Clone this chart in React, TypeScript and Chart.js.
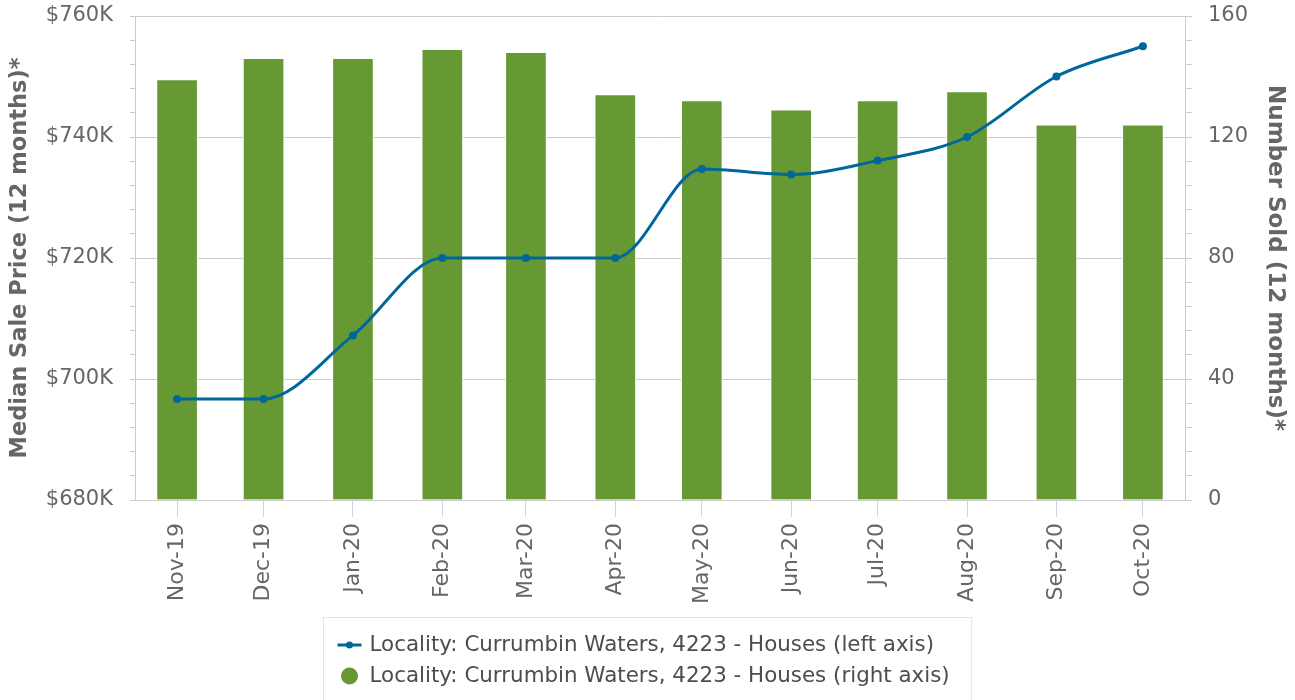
import React, { useEffect, useRef } from "react";
import { Chart, registerables } from "chart.js";

Chart.register(...registerables);

const categories = ["Nov-19", "Dec-19", "Jan-20", "Feb-20", "Mar-20", "Apr-20", "May-20", "Jun-20", "Jul-20", "Aug-20", "Sep-20", "Oct-20"];
const medianPrice = [696700, 696700, 707200, 720000, 720000, 720000, 734700, 733800, 736100, 740000, 750000, 755000];
const numberSold = [139, 146, 146, 149, 148, 134, 132, 129, 132, 135, 124, 124];
const lineLabel = "Locality: Currumbin Waters, 4223 - Houses (left axis)";
const barLabel = "Locality: Currumbin Waters, 4223 - Houses (right axis)";
const leftTitle = "Median Sale Price (12 months)*";
const rightTitle = "Number Sold (12 months)*";

const MONTHS = ["Jan", "Feb", "Mar", "Apr", "May", "Jun", "Jul", "Aug", "Sep", "Oct", "Nov", "Dec"];
const BASE = Date.UTC(2019, 10, 1);
function dayOf(label: string): number {
  const [m, y] = label.split("-");
  return (Date.UTC(2000 + Number(y), MONTHS.indexOf(m), 1) - BASE) / 86400000;
}
const xDays = categories.map(dayOf);

const FONT = "'DejaVu Sans', sans-serif";
const LINE_COLOR = "#00679b";
const BAR_COLOR = "#669933";

const legendPlugin = {
  id: "customLegend",
  afterDraw(chart: any) {
    const ctx = chart.ctx as CanvasRenderingContext2D;
    ctx.save();
    ctx.font = `21.4px ${FONT}`;
    const tw = Math.max(ctx.measureText(lineLabel).width, ctx.measureText(barLabel).width);
    const boxW = 46 + tw + 22;
    const left = Math.round(chart.width / 2 - boxW / 2) + 0.5;
    const top = 617.5;
    ctx.strokeStyle = "#e3e3e3";
    ctx.lineWidth = 1;
    ctx.strokeRect(left, top, boxW, 120);
    const y1 = 645;
    const y2 = 676;
    ctx.strokeStyle = LINE_COLOR;
    ctx.lineWidth = 3;
    ctx.beginPath();
    ctx.moveTo(left + 14, y1);
    ctx.lineTo(left + 38, y1);
    ctx.stroke();
    ctx.fillStyle = LINE_COLOR;
    ctx.beginPath();
    ctx.arc(left + 26, y1, 3.5, 0, Math.PI * 2);
    ctx.fill();
    ctx.fillStyle = BAR_COLOR;
    ctx.beginPath();
    ctx.arc(left + 26, y2, 8.5, 0, Math.PI * 2);
    ctx.fill();
    ctx.fillStyle = "#4d4d4d";
    ctx.textBaseline = "middle";
    ctx.textAlign = "left";
    ctx.fillText(lineLabel, left + 46, y1);
    ctx.fillText(barLabel, left + 46, y2);
    ctx.restore();
  },
};

export default function App() {
  const ref = useRef<HTMLCanvasElement | null>(null);
  useEffect(() => {
    document.body.style.margin = "0";
    const canvas = ref.current;
    if (!canvas) return;
    const pad = 14.6;
    const chart = new Chart(canvas, {
      type: "bar",
      data: {
        datasets: [
          {
            type: "line",
            label: lineLabel,
            data: xDays.map((x, i) => ({ x, y: medianPrice[i] })),
            yAxisID: "y",
            xAxisID: "x",
            borderColor: LINE_COLOR,
            backgroundColor: LINE_COLOR,
            borderWidth: 3,
            pointRadius: 4,
            pointBorderWidth: 0,
            cubicInterpolationMode: "monotone",
            order: 0,
          } as any,
          {
            type: "bar",
            label: barLabel,
            data: xDays.map((x, i) => ({ x, y: numberSold[i] })),
            yAxisID: "y1",
            xAxisID: "x",
            backgroundColor: BAR_COLOR,
            borderColor: "rgba(255,255,255,0.8)",
            borderWidth: 1,
            barThickness: 41,
            order: 1,
          } as any,
        ],
      },
      options: {
        responsive: false,
        animation: false,
        events: [],
        layout: { padding: { top: 16, left: 0, right: 0, bottom: 0 } },
        plugins: { legend: { display: false }, tooltip: { enabled: false } },
        scales: {
          x: {
            type: "linear",
            offset: false,
            min: xDays[0] - pad,
            max: xDays[xDays.length - 1] + pad,
            afterBuildTicks: (scale: any) => {
              scale.ticks = xDays.map((v) => ({ value: v }));
            },
            afterFit: (scale: any) => {
              scale.height = 200;
              scale.paddingLeft = 0;
              scale.paddingRight = 0;
            },
            ticks: {
              autoSkip: false,
              minRotation: 90,
              maxRotation: 90,
              padding: 6,
              color: "#666666",
              font: { family: FONT, size: 22 },
              callback: (v: any) => {
                const i = xDays.indexOf(Number(v));
                return i >= 0 ? categories[i] : "";
              },
            },
            grid: { drawOnChartArea: false, offset: false, color: "#ccd6eb", tickLength: 17 },
            border: { color: "#cccccc" },
          },
          y: {
            type: "linear",
            position: "left",
            min: 680000,
            max: 760000,
            afterBuildTicks: (scale: any) => {
              const t = [];
              for (let v = 680000; v <= 760000; v += 4000) t.push({ value: v });
              scale.ticks = t;
            },
            afterFit: (scale: any) => {
              scale.width = 135;
              scale.paddingTop = 0;
              scale.paddingBottom = 0;
            },
            ticks: {
              autoSkip: false,
              padding: 17,
              color: "#666666",
              font: { family: FONT, size: 21 },
              callback: (v: any) => (Number(v) % 20000 === 0 ? "$" + Number(v) / 1000 + "K" : ""),
            },
            grid: {
              color: (c: any) => (c.tick && c.tick.value % 20000 === 0 ? "#cccccc" : "rgba(0,0,0,0)"),
              tickColor: "#cccccc",
              tickLength: 5,
            },
            border: { color: "#cccccc" },
            title: {
              display: true,
              text: leftTitle,
              color: "#666666",
              font: { family: FONT, size: 22.5, weight: "bold" },
              padding: { top: 7, bottom: 0 },
            },
          },
          y1: {
            type: "linear",
            position: "right",
            min: 0,
            max: 160,
            afterBuildTicks: (scale: any) => {
              const t = [];
              for (let v = 0; v <= 160; v += 8) t.push({ value: v });
              scale.ticks = t;
            },
            afterFit: (scale: any) => {
              scale.width = 110;
              scale.paddingTop = 0;
              scale.paddingBottom = 0;
            },
            ticks: {
              autoSkip: false,
              padding: 16,
              color: "#666666",
              font: { family: FONT, size: 21 },
              callback: (v: any) => (Number(v) % 40 === 0 ? String(v) : ""),
            },
            grid: { drawOnChartArea: false, color: "#cccccc", tickLength: 7 },
            border: { color: "#cccccc" },
            title: {
              display: true,
              text: rightTitle,
              color: "#666666",
              font: { family: FONT, size: 23, weight: "bold" },
              padding: { top: 6, bottom: 0 },
            },
          },
        },
      } as any,
      plugins: [legendPlugin],
    });
    return () => chart.destroy();
  }, []);
  return (
    <div style={{ width: 1295, height: 700, position: "relative", background: "#fff" }}>
      <canvas ref={ref} width={1295} height={700} style={{ display: "block", width: 1295, height: 700 }} />
    </div>
  );
}
